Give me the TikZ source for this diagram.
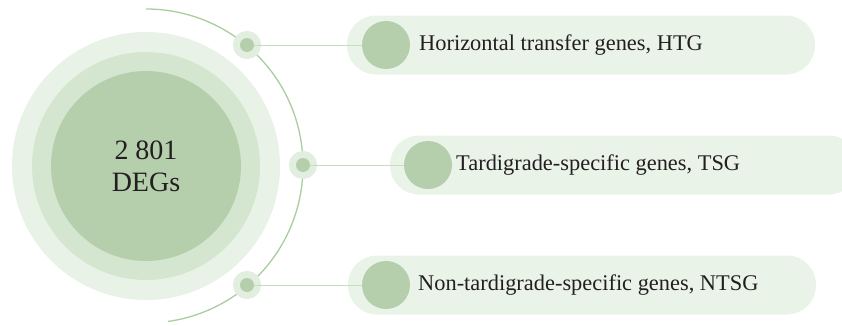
\documentclass[tikz,border=0pt]{standalone}
\usepackage{fontspec}
\setmainfont{Liberation Serif}
\usepackage{tikz}

\definecolor{ringA}{HTML}{E9F2E6}
\definecolor{ringB}{HTML}{D5E6D0}
\definecolor{ringC}{HTML}{B5CFAC}
\definecolor{pillbg}{HTML}{EAF3E8}
\definecolor{halo}{HTML}{E2EEDF}
\definecolor{arcgreen}{HTML}{A9CDA0}
\definecolor{linkgreen}{HTML}{C6DDC0}
\definecolor{ink}{HTML}{231F20}

\tikzset{
  pill/.style = {rectangle, rounded corners=29pt, fill=pillbg, minimum width=468pt, minimum height=59pt, inner sep=0pt},
  smalldot/.style = {circle, fill=ringC, minimum size=14pt, inner sep=0pt, preaction={draw=halo, line width=14pt}},
  bigdot/.style = {circle, fill=ringC, minimum size=48pt, inner sep=0pt},
  gtext/.style = {font=\fontsize{22.4}{26}\selectfont, text=ink, inner sep=0pt, anchor=west},
  link/.style = {draw=linkgreen, line width=1pt},
  arcline/.style = {draw=arcgreen, line width=1.3pt}
}

\begin{document}
\begin{tikzpicture}[x=1pt, y=1pt]
    \useasboundingbox (0,0) rectangle (842,325);
    \clip (0,0) rectangle (842,325);
    % the three rings round the count
    \node[circle, fill=ringA, minimum size=268pt] (outer) at (146,159) {};
    \node[circle, fill=ringB, minimum size=228pt] (middle) at (146,159) {};
    \node[circle, fill=ringC, minimum size=190pt, align=center, text=ink,
      font=\fontsize{28}{32}\selectfont] (degs) at (146,159) {2 801\\DEGs};
    \draw[arcline] (146,316) arc[start angle=90, end angle=-82, radius=157pt];
    % one pill per gene group
    \foreach \i/\y/\dx/\bx/\cx/\tx/\lbl in {
        1/280/247/581/386/419/{Horizontal transfer genes, HTG},
        2/160/303/624/428/456/{Tardigrade-specific genes, TSG},
        3/40/247/582/386/418/{Non-tardigrade-specific genes, NTSG}} {
      \node[pill] (box\i) at (\bx,\y) {};
      \node[smalldot] (d\i) at (\dx,\y) {};
      \node[bigdot] (c\i) at (\cx,\y) {};
      \node[gtext] (t\i) at (\tx,\y) {\lbl};
      \draw[link] (d\i) -- (c\i);
    }
\end{tikzpicture}
\end{document}
